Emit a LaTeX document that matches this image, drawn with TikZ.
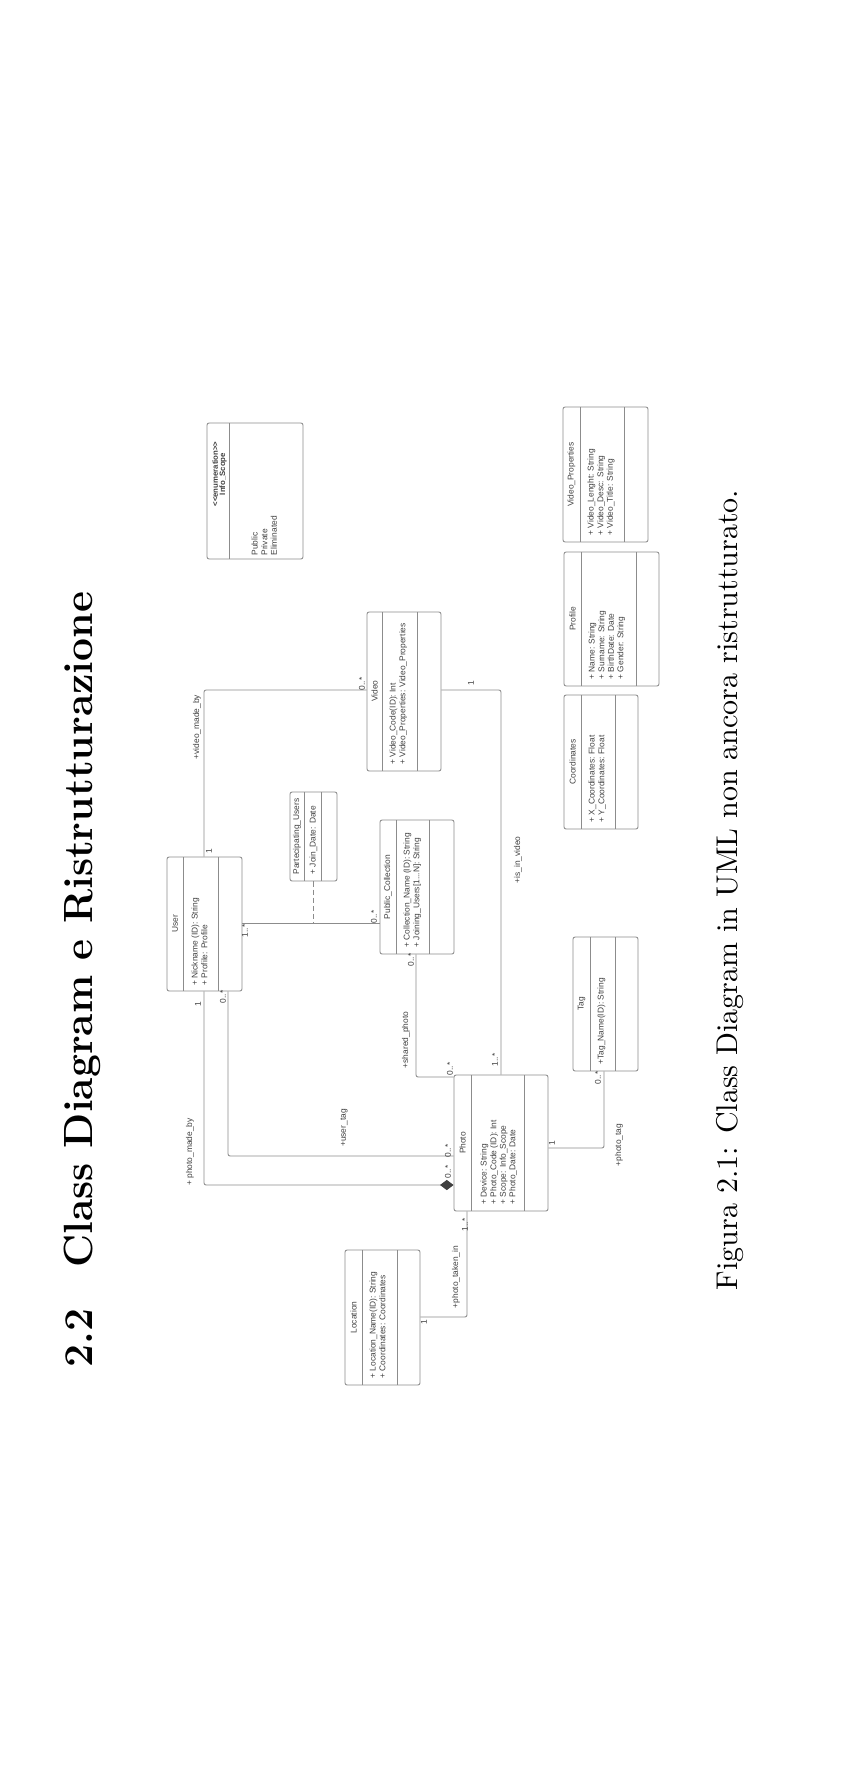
\documentclass[tikz,border=0pt]{standalone}
\usepackage{fontspec}
\newfontfamily\umlf{Liberation Sans}
\usetikzlibrary{fit,arrows.meta}
\definecolor{lc}{gray}{0.55}
\definecolor{tc}{gray}{0.25}
\definecolor{dk}{gray}{0.25}
\newcommand\umlbox[7]{%
  \node[box, fit={(#2,#3) (#4,#5)}] (#1) {};
  \draw[sep] (#6,#3) -- (#6,#5);
  \draw[sep] (#7,#3) -- (#7,#5);}
\begin{document}
\begin{tikzpicture}[x=0.33333pt,y=-0.33333pt,
  box/.style={draw=lc, line width=0.3pt, rounded corners=0.7pt, inner sep=0pt},
  sep/.style={draw=lc, line width=0.3pt},
  conn/.style={draw=lc, line width=0.3pt, rounded corners=0.7pt},
  t/.style={rotate=90, inner sep=0pt, text=tc, font=\umlf\fontsize{2.8pt}{3.2pt}\selectfont},
  att/.style={t, anchor=north west, align=left},
  bt/.style={t, font=\umlf\bfseries\fontsize{2.6pt}{3pt}\selectfont}]
\useasboundingbox (0,0) rectangle (849,1785);
% title and caption
\node[rotate=90, anchor=base west, inner sep=0pt, font=\fontsize{13.6pt}{16pt}\selectfont\bfseries] (title) at (92,1368) {2.2\quad Class Diagram e Ristrutturazione};
\node[rotate=90, anchor=base, inner sep=0pt, font=\fontsize{10pt}{12pt}\selectfont] (caption) at (737,890) {Figura 2.1: Class Diagram in UML non ancora ristrutturato.};
% boxes
\umlbox{user}{167}{857}{242}{991}{183}{218}
\node[t] at (175,924) {User};
\node[att] at (191,986) {+ Nickname (ID): String\\+ Profile: Profile};

\umlbox{photo}{454}{1075}{548}{1211}{471}{524}
\node[t] at (462.5,1143) {Photo};
\node[att] at (480,1205) {+ Device: String\\+ Photo\_Code (ID): Int\\+ Scope: Info\_Scope\\+ Photo\_Date: Date};

\umlbox{pubcoll}{380}{820}{454}{954}{396}{429}
\node[t] at (388,887) {Public\_Collection};
\node[att] at (403,948) {+ Collection\_Name (ID): String\\+ Joining\_Users[1...N]: String};

\umlbox{video}{367}{612}{441}{771}{382}{417}
\node[t] at (374.5,691) {Video};
\node[att] at (389,765) {+ Video\_Code(ID): Int\\+ Video\_Properties: Video\_Properties};

\umlbox{partusers}{290}{792}{337}{881}{304}{321}
\node[t] at (297,836.5) {Partecipating\_Users};
\node[att] at (309,875) {+ Join\_Date: Date};

\umlbox{location}{345}{1250}{420}{1385}{362}{397}
\node[t] at (353.5,1317.5) {Location};
\node[att] at (369,1379) {+ Location\_Name(ID): String\\+ Coordinates: Coordinates};

\umlbox{tag}{573}{937}{638}{1071}{590}{615}
\node[t] at (581.5,1004) {Tag};
\node[att] at (597,1065) {+Tag\_Name(ID): String};

\umlbox{coords}{564}{695}{638}{829}{581}{615}
\node[t] at (572.5,762) {Coordinates};
\node[att] at (588,823) {+ X\_Coordinates: Float\\+ Y\_Coordinates: Float};

\umlbox{profile}{564}{552}{659}{686}{581}{636}
\node[t] at (572.5,619) {Profile};
\node[att] at (588,680) {+ Name: String\\+ Surname: String\\+ BirthDate: Date\\+ Gender: String};

\umlbox{vprops}{563}{407}{648}{542}{580}{624}
\node[t] at (571.5,474.5) {Video\_Properties};
\node[att] at (587,536) {+ Video\_Lenght: String\\+ Video\_Desc: String\\+ Video\_Title: String};

\node[box, fit={(207,423) (303,559)}] (infoscope) {};
\draw[sep] (229,423) -- (229,559);
\node[bt] at (215,474) {<<enumeration>>};
\node[bt] at (223,474) {Info\_Scope};
\node[att] at (251,556) {Public\\Private\\Eliminated};

% connectors
\coordinate (vmb) at (204,690);
\draw[conn] (user.north -| vmb) |- (video.west |- vmb);
\node[t] at (209,851) {1};
\node[t] at (197,727) {+video\_made\_by};
\node[t] at (362,684) {0..*};

\coordinate (pa) at (300,923);
\draw[conn] (user.east |- pa) -- (pubcoll.west |- pa);
\draw[conn, dash pattern=on 1.7pt off 1pt] (partusers.south) -- (partusers.south |- pa);
\node[t] at (245,931) {1..*};
\node[t] at (374,917) {0..*};

\coordinate (sp) at (416,1077);
\draw[conn] (pubcoll.south -| sp) |- (photo.west |- sp);
\node[t] at (411,960) {0..*};
\node[t] at (406,1040) {+shared\_photo};
\node[t] at (450,1069) {0..*};

\coordinate (iv) at (501,690);
\draw[conn] (video.east |- iv) -| (photo.north -| iv);
\node[t] at (471,683) {1};
\node[t] at (518,860) {+is\_in\_video};
\node[t] at (495,1060) {1..*};

\coordinate (pt) at (604,1148);
\draw[conn] (photo.east |- pt) -| (tag.south -| pt);
\node[t] at (552,1143) {1};
\node[t] at (598,1078) {0..*};
\node[t] at (619,1145) {+photo\_tag};

\coordinate (ut) at (228,1156);
\draw[conn] (user.south -| ut) |- (photo.west |- ut);
\node[t] at (223,997) {0..*};
\node[t] at (344,1128) {+user\_tag};
\node[t] at (448,1151) {0..*};

\coordinate (pm) at (204,1185);
\draw[conn, -{Diamond[length=4.5pt,width=3.4pt,color=dk,fill=dk]}] (user.south -| pm) |- (photo.west |- pm);
\node[t] at (198,1004) {1};
\node[t] at (190,1152) {+ photo\_made\_by};
\node[t] at (448,1172) {0..*};

\coordinate (pti) at (467,1317);
\draw[conn] (photo.south -| pti) |- (location.east |- pti);
\node[t] at (465,1225) {1..*};
\node[t] at (424,1322) {1};
\node[t] at (456,1277) {+photo\_taken\_in};
\end{tikzpicture}
\end{document}
